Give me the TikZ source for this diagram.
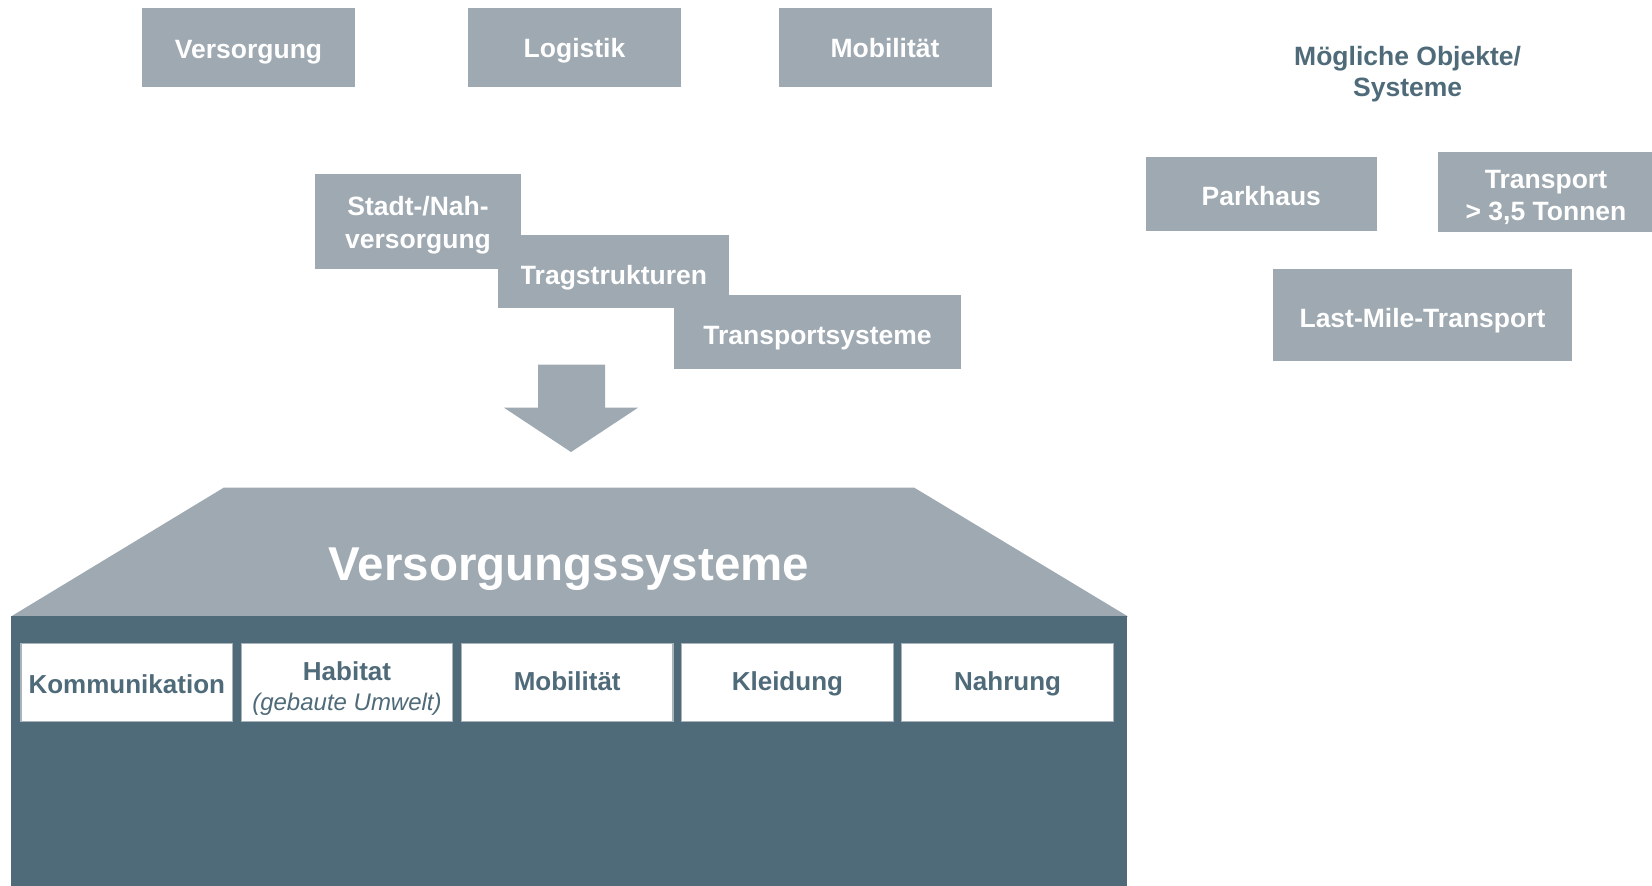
\documentclass[tikz,border=0pt]{standalone}
\usepackage{fontspec}
\setmainfont{Liberation Sans}
\definecolor{boxgray}{HTML}{9EA9B1}
\definecolor{slate}{HTML}{4F6A79}
\definecolor{edgegray}{HTML}{A9B3BA}
\newcommand{\toprule}[1]{\rule{0pt}{#1}}
\begin{document}
\begin{tikzpicture}[x=1pt,y=-1pt,
  graybox/.style={fill=boxgray,draw=none,inner sep=0pt,text=white,align=center,
    font=\fontsize{26.5}{31.3}\selectfont\bfseries},
  whitebox/.style={fill=white,draw=edgegray,line width=1.2pt,inner sep=0pt,text=slate,align=center,
    minimum width=211.5pt,minimum height=78pt,font=\fontsize{26}{30.5}\selectfont\bfseries},
  headtext/.style={text=slate,align=center,inner sep=0pt,font=\fontsize{26.5}{31}\selectfont\bfseries},
  th/.style={text height=#1,text depth=0pt}]
\useasboundingbox (0,0) rectangle (1652,886);
% top row
\node[graybox,th=21pt,minimum width=213pt,minimum height=79pt] (vers) at (248.5,47.9) {Versorgung};
\node[graybox,th=19.5pt,minimum width=213pt,minimum height=79pt] (logi) at (574.5,47.9) {Logistik};
\node[graybox,th=21pt,minimum width=213pt,minimum height=79pt] (mobi) at (885,47.3) {Mobilität};
% staircase
\node[graybox,th=24.6pt,minimum width=287pt,minimum height=73.4pt] (trans) at (817.5,332) {Transportsysteme};
\node[graybox,th=25pt,minimum width=231pt,minimum height=73pt] (trag) at (613.5,271.8) {Tragstrukturen};
\node[graybox,font=\fontsize{26.5}{33}\selectfont\bfseries,minimum width=206pt,minimum height=95.3pt] (stadt) at (418,221.7) {\toprule{27pt}Stadt-/Nah-\\versorgung};
% right side
\node[headtext] (moegl) at (1407.6,74.2) {Mögliche Objekte/\\Systeme};
\node[graybox,th=22.6pt,minimum width=230.5pt,minimum height=73.4pt] (park) at (1261.3,194) {Parkhaus};
\node[graybox,font=\fontsize{26.5}{32}\selectfont\bfseries,minimum width=216pt,minimum height=79.6pt] (tr35) at (1546,192.2) {\toprule{29pt}Transport\\> 3,5 Tonnen};
\node[graybox,th=25.6pt,minimum width=299.5pt,minimum height=91.4pt] (lmt) at (1422.5,315) {Last-Mile-Transport};
% arrow
\fill[boxgray] (538,364.5) -- (605,364.5) -- (605,407.7) -- (638,407.7) -- (571,452)
  -- (504,407.7) -- (538,407.7) -- cycle;
% house
\fill[boxgray] (224,487.5) -- (914,487.5) -- (1128,616.5) -- (11,616.5) -- cycle;
\node[anchor=base,inner sep=0pt,text=white,font=\fontsize{47.5}{50}\selectfont\bfseries] (vsys) at (569,580.5) {Versorgungssysteme};
\fill[slate] (11,616) rectangle (1127,890);
\node[whitebox,th=20.6pt] (komm) at (126.8,682.7) {Kommunikation};
\node[whitebox] (habi) at (347,682.7) {\toprule{31pt}Habitat\\{\fontsize{24}{30.5}\selectfont\mdseries\itshape (gebaute Umwelt)}};
\node[whitebox,th=15pt] (mob2) at (567.2,682.7) {Mobilität};
\node[whitebox,th=15pt] (klei) at (787.4,682.7) {Kleidung};
\node[whitebox,th=15pt] (nahr) at (1007.6,682.7) {Nahrung};
\end{tikzpicture}
\end{document}
